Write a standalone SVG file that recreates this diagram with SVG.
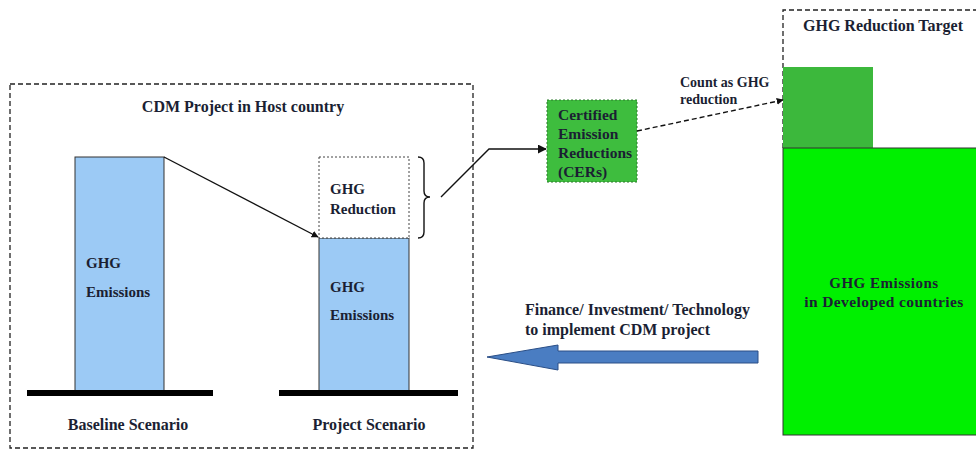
<svg xmlns="http://www.w3.org/2000/svg" width="976" height="450" viewBox="0 0 976 450">
<style>
text{font-family:"Liberation Serif","Times New Roman",serif;font-weight:bold;fill:#1b1f33}
.t15{font-size:15px}
.t16{font-size:16px}
.t14{font-size:14px}
.dash{fill:none;stroke:#222;stroke-width:1.3;stroke-dasharray:5 3}
.bar{fill:#9ccaf5;stroke:#333;stroke-width:1}
.ground{fill:#000}
.ln{fill:none;stroke:#111;stroke-width:1.4}
</style>
<defs>
<marker id="ah" viewBox="0 0 10 10" refX="9" refY="5" markerWidth="7" markerHeight="7" orient="auto" markerUnits="userSpaceOnUse">
<path d="M0,0 L10,5 L0,10 z" fill="#111"/>
</marker>
<marker id="ah2" viewBox="0 0 10 10" refX="9" refY="5" markerWidth="9" markerHeight="9" orient="auto" markerUnits="userSpaceOnUse">
<path d="M0,0 L10,5 L0,10 z" fill="#111"/>
</marker>
</defs>
<rect width="976" height="450" fill="#fff"/>

<g id="host-box">
<rect class="dash" x="10" y="84" width="463" height="364"/>
<text class="t16" x="243" y="112" text-anchor="middle">CDM Project in Host country</text>
</g>

<g id="baseline">
<rect class="bar" x="75" y="157" width="89" height="234"/>
<rect class="ground" x="27" y="390" width="186" height="6"/>
<text class="t15" x="86" y="268">GHG</text>
<text class="t15" x="86" y="297">Emissions</text>
<text class="t16" x="128" y="430" text-anchor="middle">Baseline Scenario</text>
</g>

<g id="project">
<rect class="bar" x="319" y="238" width="90" height="153"/>
<rect x="319" y="157" width="90" height="81" fill="#fff" stroke="#444" stroke-width="1" stroke-dasharray="2 2"/>
<rect class="ground" x="279" y="390" width="179" height="6"/>
<text class="t15" x="330" y="194">GHG</text>
<text class="t15" x="330" y="214">Reduction</text>
<text class="t15" x="330" y="292">GHG</text>
<text class="t15" x="330" y="320">Emissions</text>
<text class="t16" x="369" y="430" text-anchor="middle">Project Scenario</text>
<path class="ln" d="M418,157 Q424,157 424,163 L424,191 Q424,197 430,197 Q424,197 424,203 L424,232 Q424,238 418,238" stroke-width="1.2"/>
</g>

<g id="cers">
<rect x="547" y="100" width="90" height="82" fill="#3ebd3e" stroke="#2a7a2a" stroke-width="1" stroke-dasharray="2 2"/>
<text class="t15" x="558" y="120" style="font-size:15.5px">Certified</text>
<text class="t15" x="558" y="139" style="font-size:15.5px">Emission</text>
<text class="t15" x="558" y="158" style="font-size:15.5px">Reductions</text>
<text class="t15" x="558" y="177" style="font-size:15.5px">(CERs)</text>
</g>

<g id="target">
<path class="dash" d="M783,148 L783,10 L976,10"/>
<text class="t16" x="883" y="31" text-anchor="middle">GHG Reduction Target</text>
<rect x="783" y="67" width="90" height="81" fill="#3cb83c"/>
<rect x="783" y="148" width="200" height="287" fill="#00f000" stroke="#333" stroke-width="1"/>
<text x="884" y="288" text-anchor="middle" style="font-size:15px;letter-spacing:0.5px">GHG Emissions</text>
<text x="884" y="307" text-anchor="middle" style="font-size:15.5px;letter-spacing:0.4px">in Developed countries</text>
</g>

<g id="connectors">
<line class="ln" x1="164" y1="157" x2="318" y2="237" marker-end="url(#ah)"/>
<polyline class="ln" points="441,197 489,149 546,149" marker-end="url(#ah2)"/>
<line x1="637" y1="131" x2="783" y2="100" stroke="#111" stroke-width="1.4" stroke-dasharray="5 3" marker-end="url(#ah)"/>
<text class="t14" x="680" y="87">Count as GHG</text>
<text class="t14" x="680" y="104">reduction</text>
<path d="M758,351 L558,351 L558,345 L487,357 L558,370 L558,363 L758,363 z" fill="#4a7dc2" stroke="#2a4e86" stroke-width="1"/>
<text class="t16" x="525" y="315">Finance/ Investment/ Technology</text>
<text class="t16" x="525" y="335">to implement CDM project</text>
</g>
</svg>
